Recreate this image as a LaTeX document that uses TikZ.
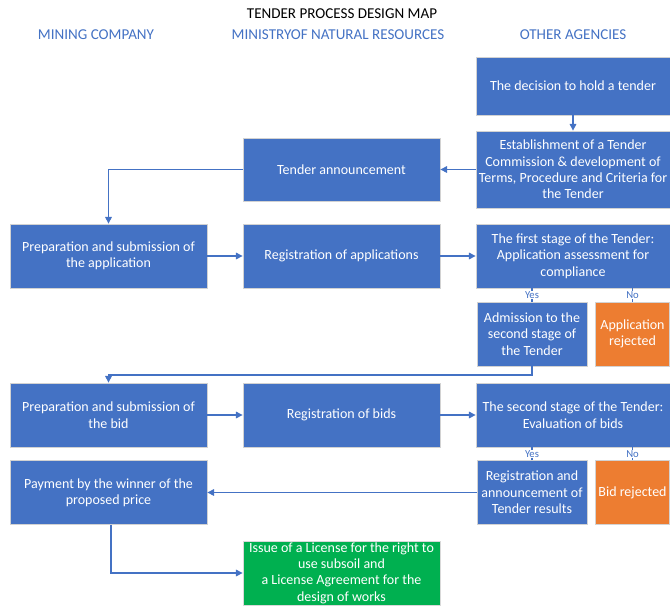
\documentclass[tikz,border=0pt]{standalone}
\usepackage{fontspec}
\setmainfont{Carlito}
\usetikzlibrary{arrows.meta}

\definecolor{boxblue}{HTML}{4472C4}
\definecolor{boxorange}{HTML}{ED7D31}
\definecolor{boxgreen}{HTML}{00B050}

\tikzset{
  stepbox/.style={rectangle, fill=boxblue, draw=gray!35, line width=0.6pt, text=white,
    align=center, inner sep=1pt, font=\fontsize{10.5}{12.3}\selectfont},
  widebox/.style={stepbox, minimum width=145.5pt, minimum height=48pt},
  smallbox/.style={stepbox, minimum width=82.5pt, minimum height=48pt},
  rejectbox/.style={smallbox, fill=boxorange, minimum width=56pt},
  header/.style={text=boxblue, font=\fontsize{11.3}{13}\selectfont},
  answer/.style={fill=white, text=boxblue, font=\fontsize{8}{9}\selectfont, inner sep=0.5pt},
  link/.style={draw=boxblue, line width=0.8pt}
}

\begin{document}
\begin{tikzpicture}[x=0.75pt, y=-0.75pt, >={Triangle[length=5pt,width=5pt]}]

\useasboundingbox (0,0) rectangle (670,607);

% Title and lanes
\node[font=\fontsize{11.3}{13}\selectfont] (title) at (342,14) {TENDER PROCESS DESIGN MAP};
\node[header] (lane1) at (96,35) {MINING COMPANY};
\node[header] (lane2) at (338,35) {MINISTRYOF NATURAL RESOURCES};
\node[header] (lane3) at (573,35) {OTHER AGENCIES};

% Boxes
\node[widebox, minimum height=43.5pt] (decision) at (573,86) {The decision to hold a tender};
\node[widebox, minimum height=57.75pt] (commission) at (573,169.5) {Establishment of a Tender\\Commission \& development of\\Terms, Procedure and Criteria for\\the Tender};
\node[widebox, minimum width=147.75pt, minimum height=47.25pt] (announce) at (341.5,169.5) {Tender announcement};

\node[widebox, minimum width=147.75pt] (prepapp) at (108.5,256) {Preparation and submission of\\the application};
\node[widebox, minimum width=147.75pt] (regapp) at (341.5,256) {Registration of applications};
\node[widebox] (stage1) at (573,256) {The first stage of the Tender:\\Application assessment for\\compliance};

\node[smallbox] (admit) at (532,334) {Admission to the\\second stage of\\the Tender};
\node[rejectbox] (rejapp) at (632.5,334) {Application\\rejected};

\node[widebox, minimum width=147.75pt] (prepbid) at (108.5,415) {Preparation and submission of\\the bid};
\node[widebox, minimum width=147.75pt] (regbid) at (341.5,415) {Registration of bids};
\node[widebox] (stage2) at (573,415) {The second stage of the Tender:\\Evaluation of bids};

\node[smallbox] (results) at (532,492.5) {Registration and\\announcement of\\Tender results};
\node[rejectbox] (rejbid) at (632.5,492.5) {Bid rejected};
\node[widebox, minimum width=147.75pt] (payment) at (108.5,492.5) {Payment by the winner of the\\proposed price};

\node[widebox, minimum width=147.75pt, fill=boxgreen, draw=gray!30] (license) at (341.5,573) {Issue of a License for the right to\\use subsoil and\\a License Agreement for the\\design of works};

% Connectors
\draw[link,->] (decision) -- (commission);
\draw[link,->] (commission) -- (announce);
\draw[link,->] (announce.west) -| (prepapp.north);
\draw[link,->] (prepapp) -- (regapp);
\draw[link,->] (regapp) -- (stage1);

\draw[link] (admit.north) -- (admit.north |- stage1.south) node[answer, pos=0.5] {Yes};
\draw[link] (rejapp.north) -- (rejapp.north |- stage1.south) node[answer, pos=0.5] {No};

\coordinate (turn1) at (532,375);
\draw[link,->] (admit.south) -- (turn1) -| (prepbid.north);
\draw[link,->] (prepbid) -- (regbid);
\draw[link,->] (regbid) -- (stage2);

\draw[link] (results.north) -- (results.north |- stage2.south) node[answer, pos=0.5] {Yes};
\draw[link] (rejbid.north) -- (rejbid.north |- stage2.south) node[answer, pos=0.5] {No};

\draw[link,->] (results.west) -- (payment.east |- results.west);
\coordinate (turn2) at (111,573);
\draw[link,->] (payment.south -| turn2) -- (turn2) -- (license.west);

\end{tikzpicture}
\end{document}
